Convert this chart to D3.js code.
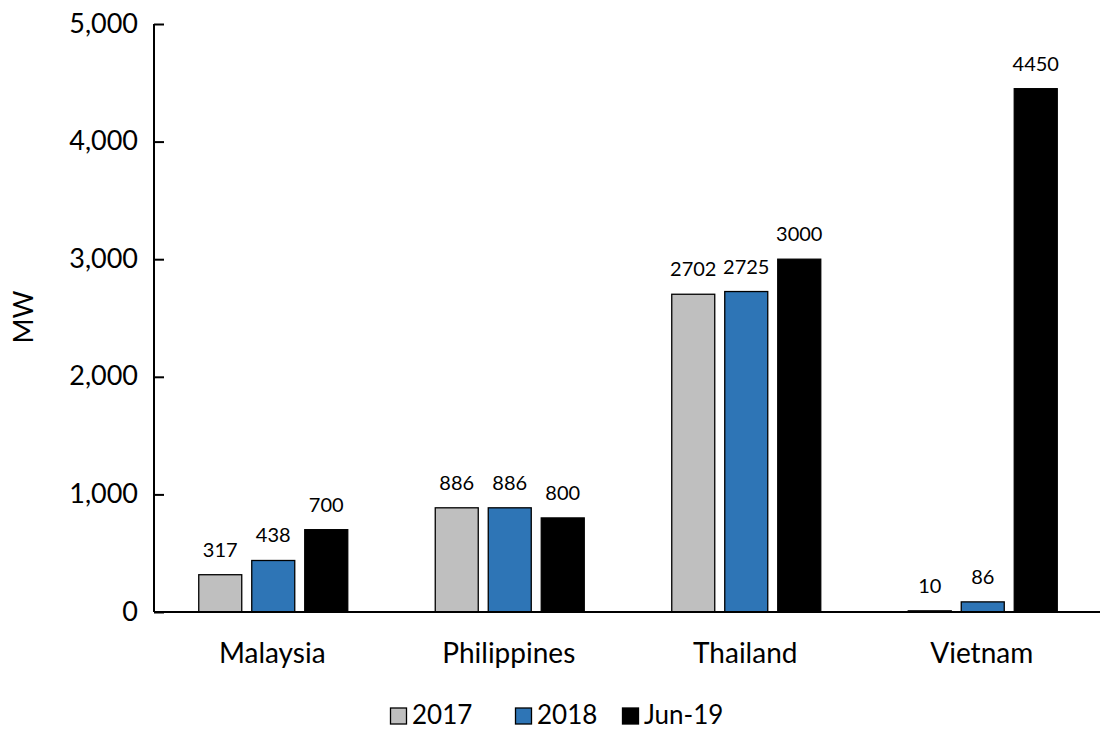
<!DOCTYPE html>
<meta charset="utf-8">
<script src="https://d3js.org/d3.v7.min.js"></script>
<style>
  body { margin: 0; background: #fff; }
  text { font-family: Lato, "Open Sans", sans-serif; fill: #000; }
</style>
<div id="my_dataviz"></div>
<script>

// data
var countries = ["Malaysia", "Philippines", "Thailand", "Vietnam"];
var seriesNames = ["2017", "2018", "Jun-19"];
var v2017 = [317, 886, 2702, 10];
var v2018 = [438, 886, 2725, 86];
var vJun19 = [700, 800, 3000, 4450];
var yTicks = [0, 1000, 2000, 3000, 4000, 5000];
var colors = ["#BFBFBF", "#2E75B6", "#000000"];

var allSeries = [v2017, v2018, vJun19];

var W = 1105, H = 729;
var margin = {top: 24, right: 5, bottom: 117, left: 154};

var svg = d3.select("#my_dataviz")
  .append("svg")
    .attr("width", W)
    .attr("height", H);

var x = d3.scaleBand()
  .domain(countries)
  .range([margin.left, W - margin.right]);

var y = d3.scaleLinear()
  .domain([0, 5000])
  .range([H - margin.bottom, margin.top]);

// bars within a group: 43px wide, 53px pitch
var barW = 43, pitch = 53;
var xs = d3.scaleBand()
  .domain(seriesNames)
  .range([x.bandwidth() / 2 - 1.5 * pitch + 1, x.bandwidth() / 2 + 1.5 * pitch + 1]);

var rows = [];
countries.forEach(function(c, i) {
  seriesNames.forEach(function(s, j) {
    rows.push({country: c, series: s, value: allSeries[j][i], color: colors[j]});
  });
});

svg.append("g")
  .selectAll("rect")
  .data(rows)
  .enter()
  .append("rect")
    .attr("x", d => x(d.country) + xs(d.series) + (pitch - barW) / 2)
    .attr("y", d => y(d.value))
    .attr("width", barW)
    .attr("height", d => y(0) - y(d.value))
    .attr("fill", d => d.color)
    .attr("stroke", "#000")
    .attr("stroke-width", 1.3);

// data labels
svg.append("g")
  .selectAll("text")
  .data(rows)
  .enter()
  .append("text")
    .attr("x", d => x(d.country) + xs(d.series) + pitch / 2)
    .attr("y", d => y(d.value) - 18)
    .attr("text-anchor", "middle")
    .style("font-size", "20px")
    .text(d => d.value);

// y axis
var yAxis = svg.append("g")
  .attr("transform", "translate(" + margin.left + ",0)")
  .call(d3.axisRight(y).tickValues(yTicks).tickSize(10).tickFormat(""));
yAxis.select(".domain").attr("d", "M0," + y(5000) + "V" + y(0));
yAxis.selectAll("line").attr("stroke", "#000").attr("stroke-width", 2);
yAxis.select(".domain").attr("stroke", "#000").attr("stroke-width", 2);

svg.append("g")
  .selectAll("text")
  .data(yTicks)
  .enter()
  .append("text")
    .attr("x", margin.left - 16)
    .attr("y", d => y(d))
    .attr("dy", "0.32em")
    .attr("text-anchor", "end")
    .style("font-size", "27px")
    .text(d => d3.format(",")(d));

// baseline
svg.append("line")
  .attr("x1", margin.left)
  .attr("x2", W - margin.right)
  .attr("y1", y(0))
  .attr("y2", y(0))
  .attr("stroke", "#000")
  .attr("stroke-width", 2);

// category labels
svg.append("g")
  .selectAll("text")
  .data(countries)
  .enter()
  .append("text")
    .attr("x", d => x(d) + x.bandwidth() / 2)
    .attr("y", 663)
    .attr("text-anchor", "middle")
    .style("font-size", "28px")
    .text(d => d);

// y label
svg.append("text")
  .attr("transform", "translate(24,317) rotate(-90)")
  .attr("text-anchor", "middle")
  .attr("dy", "0.35em")
  .style("font-size", "27px")
  .text("MW");

// legend
var legX = [390, 515, 622];
var leg = svg.append("g")
  .selectAll("g")
  .data(seriesNames)
  .enter()
  .append("g")
    .attr("transform", (d, i) => "translate(" + legX[i] + ",716)");
leg.append("rect")
  .attr("x", 0.5)
  .attr("y", -8)
  .attr("width", 16)
  .attr("height", 16)
  .attr("fill", (d, i) => colors[i])
  .attr("stroke", "#000")
  .attr("stroke-width", 1.3);
leg.append("text")
  .attr("x", 22)
  .attr("y", 8)
  .style("font-size", "26px")
  .text(d => d);

</script>
